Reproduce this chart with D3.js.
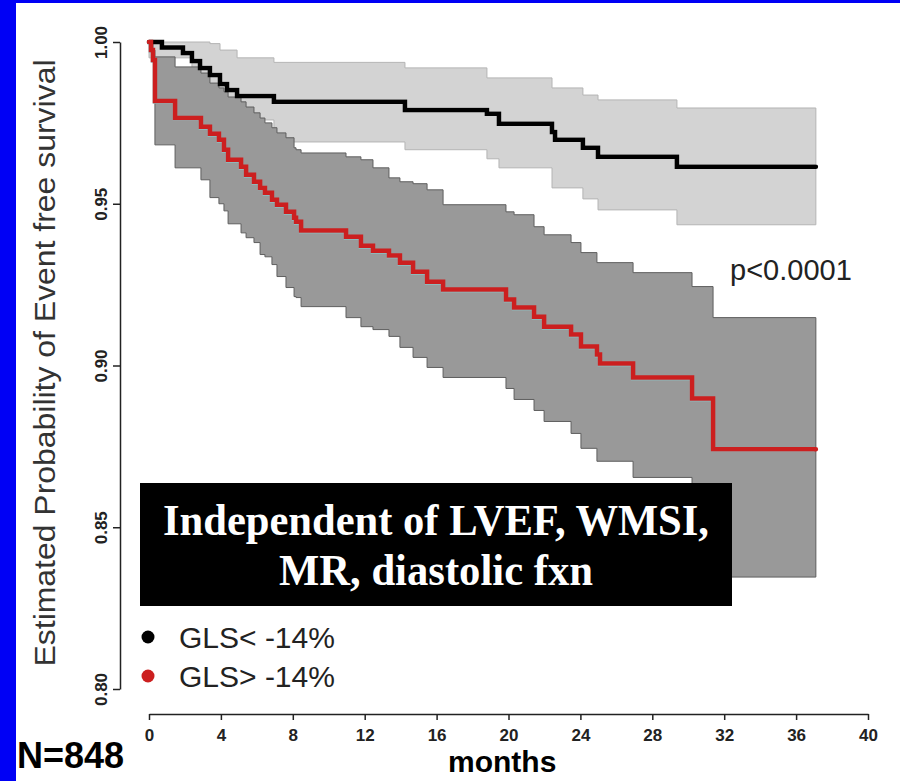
<!DOCTYPE html>
<html>
<head>
<meta charset="utf-8">
<script src="https://cdn.jsdelivr.net/npm/d3@7"></script>
<style>
  body { margin: 0; background: #fff; }
  svg { display: block; }
</style>
</head>
<body>
<div id="chart-area"></div>
<script>
// ---- data (months, survival probability) ----
var xTicks = [0, 4, 8, 12, 16, 20, 24, 28, 32, 36, 40];
var yTicks = [0.80, 0.85, 0.90, 0.95, 1.00];
var groupLabels = ["GLS< -14%", "GLS> -14%"];

// GLS < -14%
var blackTime  = [0, 0.72, 1.89, 2.39, 2.84, 3.39, 3.95, 4.34, 4.90, 6.95, 14.24, 18.80, 19.47, 22.42, 22.59, 24.14, 24.98, 29.37, 37.10];
var blackSurv  = [1.000, 0.9983, 0.9966, 0.9941, 0.9920, 0.9898, 0.9870, 0.9852, 0.9833, 0.9815, 0.9790, 0.9778, 0.9747, 0.9722, 0.9698, 0.9673, 0.9645, 0.9614, 0.9614];
var blackUpper = [1.000, 1.000, 1.000, 1.000, 1.000, 0.9995, 0.9975, 0.9975, 0.9951, 0.9937, 0.9920, 0.9889, 0.9889, 0.9858, 0.9858, 0.9836, 0.9821, 0.9796, 0.9796];
var blackLower = [0.9951, 0.9951, 0.9951, 0.9867, 0.9846, 0.9821, 0.9796, 0.9781, 0.9759, 0.9691, 0.9667, 0.9639, 0.9611, 0.9549, 0.9549, 0.9515, 0.9481, 0.9435, 0.9435];

// GLS > -14%
var redTime  = [0, 0.11, 0.22, 0.33, 1.45, 2.89, 3.39, 3.89, 4.17, 4.40, 5.12, 5.40, 5.84, 6.18, 6.45, 6.84, 7.12, 7.62, 8.07, 8.18,
                8.46, 10.96, 11.79, 12.46, 13.35, 13.96, 14.69, 15.47, 16.36, 19.86, 20.31, 21.42, 21.98, 23.48, 24.03, 24.92, 25.09, 26.93, 30.21, 31.38, 37.10];
var redSurv  = [1.000, 0.9975, 0.9944, 0.9818, 0.9765, 0.9738, 0.9716, 0.9698, 0.9667, 0.9636, 0.9614, 0.9590, 0.9568, 0.9549, 0.9534, 0.9512, 0.9497, 0.9475, 0.9457, 0.9444,
                0.9417, 0.9398, 0.9370, 0.9355, 0.9340, 0.9318, 0.9290, 0.9259, 0.9235, 0.9204, 0.9179, 0.9151, 0.9120, 0.9096, 0.9059, 0.9034, 0.9006, 0.8963, 0.8898, 0.8741, 0.8741];
var redUpper = [1.000, 0.9994, 0.9975, 0.9954, 0.9923, 0.9904, 0.9873, 0.9858, 0.9846, 0.9830, 0.9815, 0.9799, 0.9781, 0.9765, 0.9750, 0.9735, 0.9719, 0.9704, 0.9673, 0.9667,
                0.9657, 0.9645, 0.9636, 0.9611, 0.9580, 0.9568, 0.9562, 0.9543, 0.9497, 0.9475, 0.9466, 0.9429, 0.9404, 0.9380, 0.9349, 0.9318, 0.9318, 0.9287, 0.9244, 0.9148, 0.9148];
var redLower = [1.000, 0.9975, 0.9944, 0.9682, 0.9611, 0.9574, 0.9519, 0.9500, 0.9478, 0.9438, 0.9410, 0.9395, 0.9380, 0.9343, 0.9336, 0.9312, 0.9275, 0.9241, 0.9213, 0.9210,
                0.9182, 0.9148, 0.9120, 0.9111, 0.9090, 0.9056, 0.9025, 0.8994, 0.8963, 0.8929, 0.8895, 0.8861, 0.8827, 0.8790, 0.8744, 0.8704, 0.8704, 0.8654, 0.8571, 0.8346, 0.8346];

var width = 900;
var height = 781;

var svg = d3.select("#chart-area").append("svg")
    .attr("width", width)
    .attr("height", height);

// blue slide frame
svg.append("rect").attr("x", 0).attr("y", 0).attr("width", 16).attr("height", height).attr("fill", "#0000f5");
svg.append("rect").attr("x", 0).attr("y", 0).attr("width", width).attr("height", 3).attr("fill", "#0000f5");

var x = d3.scaleLinear().domain([0, 40]).range([149, 868]);
var y = d3.scaleLinear().domain([0.80, 1.00]).range([689, 42]);

function rows(time, surv, lower, upper) {
    return time.map((t, i) => ({ t: t, s: surv[i], lo: lower[i], hi: upper[i] }));
}
var black = rows(blackTime, blackSurv, blackLower, blackUpper);
var red = rows(redTime, redSurv, redLower, redUpper);

var band = d3.area()
    .curve(d3.curveStepAfter)
    .x((d) => x(d.t))
    .y0((d) => y(d.lo))
    .y1((d) => y(d.hi));

var line = d3.line()
    .curve(d3.curveStepAfter)
    .x((d) => x(d.t))
    .y((d) => y(d.s));

// confidence bands
svg.append("path").attr("d", band(black))
    .attr("fill", "#d3d3d3").attr("stroke", "#b4b4b4").attr("stroke-width", 1);
svg.append("path").attr("d", band(red))
    .attr("fill", "#999999").attr("stroke", "#5e5e5e").attr("stroke-width", 1);

// survival curves (with the thin halo seen in the figure)
svg.append("path").attr("d", line(black))
    .attr("transform", "translate(1.5,-2)")
    .attr("fill", "none").attr("stroke", "#ffffff").attr("stroke-width", 1.5);
svg.append("path").attr("d", line(black))
    .attr("fill", "none").attr("stroke", "#000").attr("stroke-width", 4.5)
    .attr("stroke-linecap", "round");

svg.append("path").attr("d", line(red))
    .attr("transform", "translate(-1.5,2)")
    .attr("fill", "none").attr("stroke", "#86d8dc").attr("stroke-width", 1.5);
svg.append("path").attr("d", line(red))
    .attr("fill", "none").attr("stroke", "#cc1f1f").attr("stroke-width", 4.5)
    .attr("stroke-linecap", "round");

// x axis
var xAxisCall = d3.axisBottom(x)
    .tickValues(xTicks)
    .tickSize(6)
    .tickSizeOuter(0);
var xg = svg.append("g")
    .attr("class", "x axis")
    .attr("transform", "translate(0, 714)")
    .call(xAxisCall);
xg.selectAll("text")
    .attr("y", 27)
    .attr("dy", 0)
    .attr("font-family", "Liberation Sans, Arial, sans-serif")
    .attr("font-weight", "bold")
    .attr("font-size", 17)
    .attr("fill", "#222");

// y axis
var yAxisCall = d3.axisLeft(y)
    .tickValues(yTicks)
    .tickSize(7)
    .tickSizeOuter(0)
    .tickFormat(d3.format(".2f"));
var yg = svg.append("g")
    .attr("class", "y axis")
    .attr("transform", "translate(120, 0)")
    .call(yAxisCall);
yg.selectAll("text")
    .attr("transform", "rotate(-90)")
    .attr("x", 0)
    .attr("y", -13)
    .attr("dy", 0)
    .attr("text-anchor", "middle")
    .attr("font-family", "Liberation Sans, Arial, sans-serif")
    .attr("font-weight", "bold")
    .attr("font-size", 17)
    .attr("fill", "#222");

svg.selectAll(".axis path, .axis line")
    .attr("stroke", "#222")
    .attr("stroke-width", 1.5);

// y label
svg.append("text")
    .attr("transform", "translate(55, 363) rotate(-90)")
    .attr("text-anchor", "middle")
    .attr("font-family", "Liberation Sans, Arial, sans-serif")
    .attr("font-size", 30)
    .attr("fill", "#333")
    .attr("textLength", 607)
    .attr("lengthAdjust", "spacingAndGlyphs")
    .text("Estimated Probability of Event free survival");

// x label
svg.append("text")
    .attr("x", 448)
    .attr("y", 772)
    .attr("font-family", "Liberation Sans, Arial, sans-serif")
    .attr("font-weight", "bold")
    .attr("font-size", 30)
    .attr("fill", "#000")
    .text("months");

svg.append("text")
    .attr("x", 17)
    .attr("y", 768)
    .attr("font-family", "Liberation Sans, Arial, sans-serif")
    .attr("font-weight", "bold")
    .attr("font-size", 36)
    .attr("fill", "#000")
    .text("N=848");

svg.append("text")
    .attr("x", 730)
    .attr("y", 280)
    .attr("font-family", "Liberation Sans, Arial, sans-serif")
    .attr("font-size", 29)
    .attr("fill", "#222")
    .text("p<0.0001");

// legend
var legendColors = ["#000", "#cc1f1f"];
var legend = svg.selectAll(".legend")
    .data(groupLabels)
    .enter().append("g")
    .attr("class", "legend")
    .attr("transform", (d, i) => "translate(148, " + (637 + i * 39) + ")");
legend.append("circle")
    .attr("r", 6.5)
    .attr("fill", (d, i) => legendColors[i]);
legend.append("text")
    .attr("x", 31)
    .attr("y", 11)
    .attr("font-family", "Liberation Sans, Arial, sans-serif")
    .attr("font-size", 30)
    .attr("fill", "#222")
    .text((d) => d);

// annotation box
svg.append("rect")
    .attr("x", 140).attr("y", 483)
    .attr("width", 592).attr("height", 123)
    .attr("fill", "#000");
var boxLines = ["Independent of LVEF, WMSI,", "MR, diastolic fxn"];
var boxWidths = [546, 314];
svg.selectAll(".boxline")
    .data(boxLines)
    .enter().append("text")
    .attr("class", "boxline")
    .attr("x", 436)
    .attr("y", (d, i) => 535 + i * 50)
    .attr("text-anchor", "middle")
    .attr("font-family", "Liberation Serif, Times New Roman, serif")
    .attr("font-weight", "bold")
    .attr("font-size", 45)
    .attr("fill", "#fff")
    .attr("textLength", (d, i) => boxWidths[i])
    .attr("lengthAdjust", "spacingAndGlyphs")
    .text((d) => d);
</script>
</body>
</html>
